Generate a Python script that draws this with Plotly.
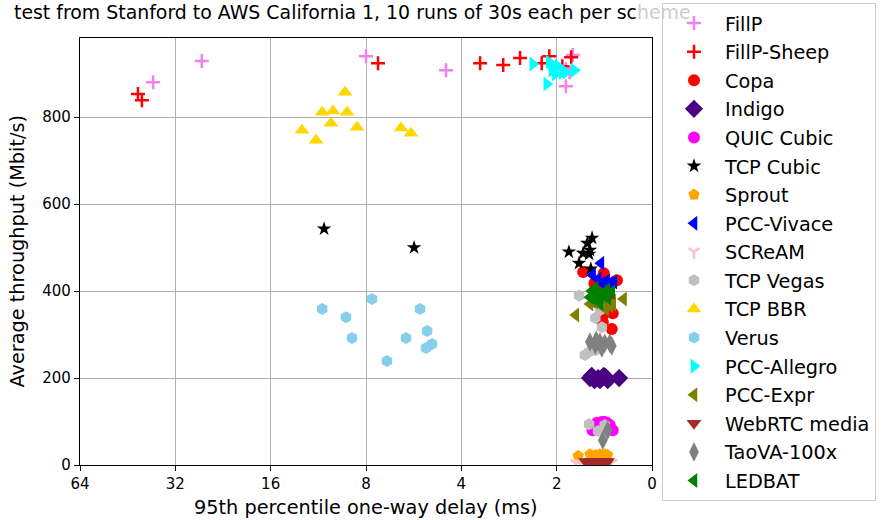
import plotly.graph_objects as go

# ---- data: (95th percentile one-way delay ms, average throughput Mbit/s) ----
schemes = ["FillP", "FillP-Sheep", "Copa", "Indigo", "QUIC Cubic", "TCP Cubic", "Sprout",
           "PCC-Vivace", "SCReAM", "TCP Vegas", "TCP BBR", "Verus", "PCC-Allegro",
           "PCC-Expr", "WebRTC media", "TaoVA-100x", "LEDBAT"]

fillp_delay = [37.6, 26.4, 8.0, 4.47, 1.78, 1.87, 1.87, 1.82]
fillp_tput = [880, 929, 940, 908, 943, 910, 871, 903]

sheep_delay = [42.0, 40.8, 7.33, 3.49, 2.95, 2.61, 2.23, 2.11, 1.80, 1.92]
sheep_tput = [853, 839, 924, 924, 920, 936, 924, 940, 938, 917]

copa_delay = [1.65, 1.42, 1.29, 1.52, 1.43, 1.33, 1.43, 1.34, 1.46, 1.36]
copa_tput = [444, 441, 425, 418, 343, 349, 329, 313, 402, 389]

indigo_delay = [1.57, 1.52, 1.48, 1.44, 1.40, 1.38, 1.27, 1.55, 1.46, 1.42]
indigo_tput = [200, 195, 200, 200, 202, 195, 200, 205, 195, 205]

quic_delay = [1.54, 1.49, 1.44, 1.39, 1.33, 1.46, 1.42, 1.36, 1.51, 1.41]
quic_tput = [80, 97, 99, 97, 80, 92, 87, 92, 90, 99]

cubic_delay = [10.85, 5.64, 1.546, 1.60, 1.83, 1.65, 1.58, 1.70, 1.56, 1.57]
cubic_tput = [543, 500, 522, 510, 490, 487, 485, 464, 451, 494]

sprout_delay = [1.71, 1.57, 1.51, 1.46, 1.41, 1.38, 1.55, 1.48, 1.43, 1.39]
sprout_tput = [21, 25, 23, 25, 25, 23, 18, 21, 18, 21]

vivace_delay = [1.45, 1.54, 1.48, 1.44, 1.39, 1.36, 1.32, 1.50, 1.46, 1.40]
vivace_tput = [464, 437, 428, 418, 423, 418, 421, 370, 379, 402]

scream_delay = [1.74, 1.34, 1.63, 1.57, 1.51, 1.46, 1.41, 1.38, 1.68, 1.43]
scream_tput = [4, 4, 3, 3, 3, 3, 3, 3, 3, 3]

vegas_delay = [1.70, 1.51, 1.44, 1.58, 1.51, 1.58, 1.48, 1.46, 1.63, 1.41]
vegas_tput = [389, 338, 317, 260, 264, 94, 78, 356, 253, 92]

bbr_delay = [9.32, 11.0, 10.17, 9.18, 10.32, 8.54, 12.74, 11.5, 6.20, 5.77]
bbr_tput = [857, 811, 814, 811, 786, 777, 770, 747, 775, 763]

verus_delay = [11.0, 9.25, 8.86, 7.66, 5.40, 5.13, 5.98, 4.95, 5.17, 6.87]
verus_tput = [359, 340, 292, 382, 359, 308, 292, 278, 269, 239]

allegro_delay = [2.38, 2.15, 2.11, 2.07, 2.02, 1.98, 1.92, 1.87, 1.76, 2.07]
allegro_tput = [922, 876, 926, 908, 899, 917, 903, 903, 908, 917]

expr_delay = [1.23, 1.74, 1.57, 1.36, 1.48, 1.42, 1.52, 1.33, 1.40, 1.46]
expr_tput = [382, 345, 370, 366, 372, 379, 375, 370, 359, 386]

webrtc_delay = [1.62, 1.57, 1.52, 1.49, 1.46, 1.43, 1.40, 1.38, 1.55, 1.47]
webrtc_tput = [8, 8, 8, 8, 8, 8, 8, 8, 8, 8]

taova_delay = [1.57, 1.51, 1.46, 1.41, 1.36, 1.44, 1.38, 1.43, 1.50, 1.34]
taova_tput = [283, 276, 283, 280, 280, 269, 80, 57, 287, 274]

ledbat_delay = [1.57, 1.55, 1.50, 1.47, 1.43, 1.39, 1.38, 1.34, 1.46, 1.51]
ledbat_tput = [386, 400, 379, 393, 391, 402, 384, 398, 372, 407]

x_tickvals = [64, 32, 16, 8, 4, 2, 1]
x_ticktext = ["64", "32", "16", "8", "4", "2", "0"]
y_tickvals = [0, 200, 400, 600, 800]

series = [
    ("FillP", fillp_delay, fillp_tput, "violet", "cross-thin", 10),
    ("FillP-Sheep", sheep_delay, sheep_tput, "red", "cross-thin", 10),
    ("Copa", copa_delay, copa_tput, "red", "circle", 12),
    ("Indigo", indigo_delay, indigo_tput, "indigo", "diamond", 14),
    ("QUIC Cubic", quic_delay, quic_tput, "magenta", "circle", 12),
    ("TCP Cubic", cubic_delay, cubic_tput, "black", "star", 11),
    ("Sprout", sprout_delay, sprout_tput, "orange", "pentagon", 12),
    ("PCC-Vivace", vivace_delay, vivace_tput, "blue", "triangle-left", 13),
    ("SCReAM", scream_delay, scream_tput, "pink", "y-down", 9),
    ("TCP Vegas", vegas_delay, vegas_tput, "silver", "hexagon", 12),
    ("TCP BBR", bbr_delay, bbr_tput, "gold", "triangle-up", 13),
    ("Verus", verus_delay, verus_tput, "skyblue", "hexagon", 12),
    ("PCC-Allegro", allegro_delay, allegro_tput, "cyan", "triangle-right", 13),
    ("PCC-Expr", expr_delay, expr_tput, "olive", "triangle-left", 13),
    ("WebRTC media", webrtc_delay, webrtc_tput, "brown", "triangle-down", 13),
    ("TaoVA-100x", taova_delay, taova_tput, "grey", "diamond-tall", 14),
    ("LEDBAT", ledbat_delay, ledbat_tput, "green", "triangle-left", 13),
]

fig = go.Figure()
for name, xs, ys, color, sym, size in series:
    marker = dict(color=color, symbol=sym, size=size)
    if sym in ("cross-thin", "y-down"):
        marker["line"] = dict(color=color, width=2.5)
    else:
        marker["line"] = dict(width=0)
    fig.add_trace(go.Scatter(x=xs, y=ys, mode="markers", name=name, legendgroup=name,
                             marker=marker))

W, H = 881, 520
L, R, T, B = 80, 229, 38, 55

# the legend box (white, alpha 0.8) covers the end of the title in the original
title_text = ("test from Stanford to AWS California 1, 10 runs of 30s each per sc"
              "<span style='color:#cccccc'>heme</span>")

fig.update_layout(
    width=W, height=H,
    margin=dict(l=L, r=R, t=T, b=B, autoexpand=False),
    paper_bgcolor="white", plot_bgcolor="white",
    font=dict(family="DejaVu Sans", size=15, color="black"),
    title=dict(text=title_text,
               x=14 / W, xanchor="left", xref="container",
               y=1 - 12 / H, yanchor="middle", yref="container",
               font=dict(size=18.9, family="DejaVu Sans")),
    showlegend=True,
    legend=dict(x=(662 - L) / (W - L - R), y=(H - B - 3) / (H - T - B),
                xanchor="left", yanchor="top",
                bgcolor="rgba(255,255,255,0.8)", bordercolor="#cccccc", borderwidth=1,
                itemwidth=52, maxheight=510, tracegroupgap=0.5,
                font=dict(size=19.3, family="DejaVu Sans")),
    annotations=[
        dict(text="95th percentile one-way delay (ms)", xref="paper", yref="paper",
             x=0.5, y=0, yshift=-(507 - (H - B)), xanchor="center", yanchor="middle",
             showarrow=False, font=dict(size=19.3)),
        dict(text="Average throughput (Mbit/s)", xref="paper", yref="paper",
             x=0, xshift=-(L - 17), y=0.5, xanchor="center", yanchor="middle",
             textangle=-90, showarrow=False, font=dict(size=19.3)),
    ],
)
fig.update_xaxes(type="log", range=[1.80618, 0], tickvals=x_tickvals, ticktext=x_ticktext,
                 showgrid=True, gridcolor="#b0b0b0", gridwidth=1.2, automargin=False,
                 showline=True, linecolor="black", linewidth=1.2, mirror=True,
                 ticks="outside", ticklen=5, tickcolor="black", zeroline=False)
fig.update_yaxes(range=[0, 982], tickvals=y_tickvals, automargin=False,
                 showgrid=True, gridcolor="#b0b0b0", gridwidth=1.2,
                 showline=True, linecolor="black", linewidth=1.2, mirror=True,
                 ticks="outside", ticklen=5, tickcolor="black", zeroline=False)

fig.write_html("out.html", config={"displayModeBar": False},
               post_script="document.body.style.margin='0';")
